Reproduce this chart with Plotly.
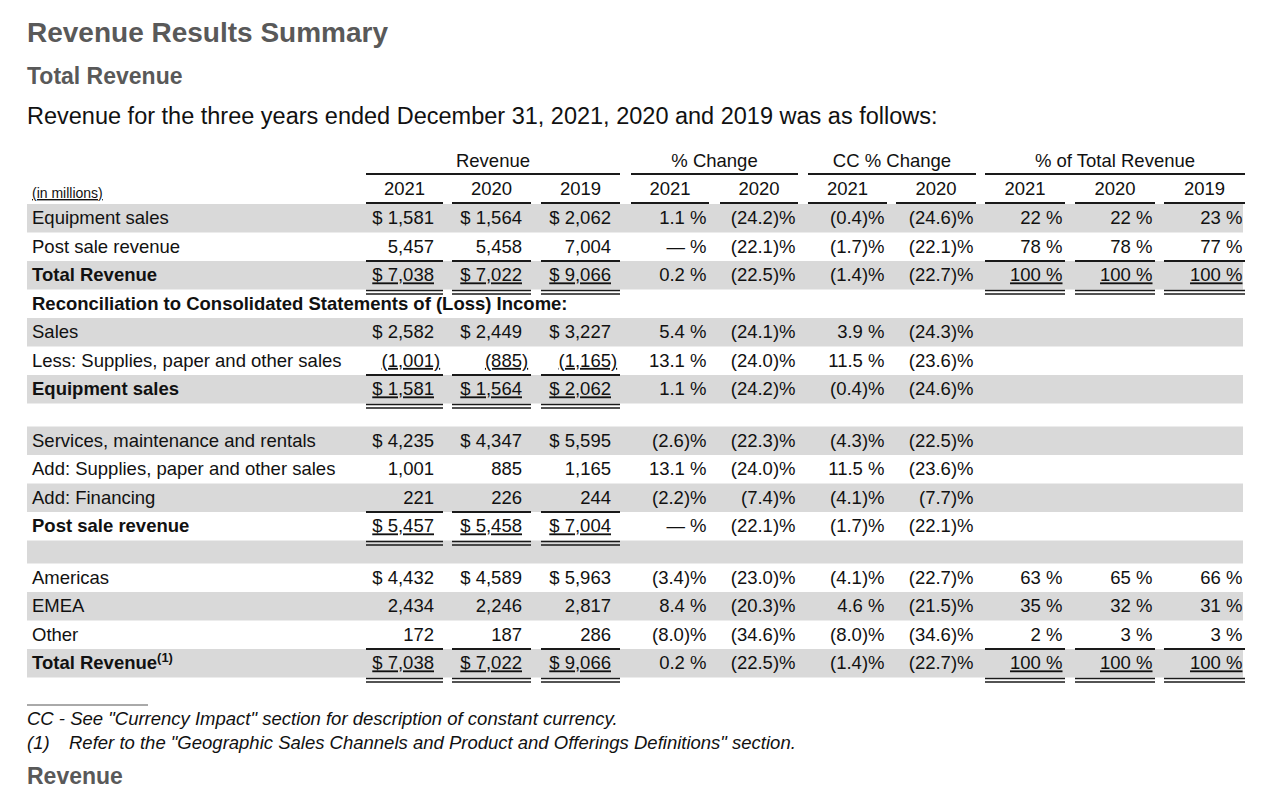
import plotly.graph_objects as go

# ---------------- data ----------------
row_labels = [
    "Equipment sales", "Post sale revenue", "Total Revenue",
    "Reconciliation to Consolidated Statements of (Loss) Income:",
    "Sales", "Less: Supplies, paper and other sales", "Equipment sales", "",
    "Services, maintenance and rentals", "Add: Supplies, paper and other sales",
    "Add: Financing", "Post sale revenue", "",
    "Americas", "EMEA", "Other", "Total Revenue<sup>(1)</sup>",
]
rev_2021 = [1581, 5457, 7038, None, 2582, -1001, 1581, None, 4235, 1001, 221, 5457, None, 4432, 2434, 172, 7038]
rev_2020 = [1564, 5458, 7022, None, 2449, -885, 1564, None, 4347, 885, 226, 5458, None, 4589, 2246, 187, 7022]
rev_2019 = [2062, 7004, 9066, None, 3227, -1165, 2062, None, 5595, 1165, 244, 7004, None, 5963, 2817, 286, 9066]
pct_2021 = [1.1, 0.0, 0.2, None, 5.4, 13.1, 1.1, None, -2.6, 13.1, -2.2, 0.0, None, -3.4, 8.4, -8.0, 0.2]
pct_2020 = [-24.2, -22.1, -22.5, None, -24.1, -24.0, -24.2, None, -22.3, -24.0, -7.4, -22.1, None, -23.0, -20.3, -34.6, -22.5]
cc_2021 = [-0.4, -1.7, -1.4, None, 3.9, 11.5, -0.4, None, -4.3, 11.5, -4.1, -1.7, None, -4.1, 4.6, -8.0, -1.4]
cc_2020 = [-24.6, -22.1, -22.7, None, -24.3, -23.6, -24.6, None, -22.5, -23.6, -7.7, -22.1, None, -22.7, -21.5, -34.6, -22.7]
tot_2021 = [22, 78, 100, None, None, None, None, None, None, None, None, None, None, 63, 35, 2, 100]
tot_2020 = [22, 78, 100, None, None, None, None, None, None, None, None, None, None, 65, 32, 3, 100]
tot_2019 = [23, 77, 100, None, None, None, None, None, None, None, None, None, None, 66, 31, 3, 100]

group_headers = ["Revenue", "% Change", "CC % Change", "% of Total Revenue"]
year_labels = ["2021", "2020", "2019", "2021", "2020", "2021", "2020", "2021", "2020", "2019"]

title_text = "Revenue Results Summary"
subtitle_text = "Total Revenue"
intro_text = "Revenue for the three years ended December 31, 2021, 2020 and 2019 was as follows:"
units_text = "(in millions)"
note_cc = 'CC - See "Currency Impact" section for description of constant currency.'
note_1_mark = "(1)"
note_1_text = 'Refer to the "Geographic Sales Channels and Product and Offerings Definitions" section.'
next_section = "Revenue"

# ---------------- styles / layout ----------------
W, H = 1280, 786
FONT = "Liberation Sans, Arial, sans-serif"
FS = 18.5
TXT = "#111111"
TITLE_GREY = "#595959"
BAND = "#d9d9d9"
RULE = "#1a1a1a"
TEXT_DY = 1.5

bold_rows = {2, 3, 6, 11, 16}
dollar_rows = {0, 2, 4, 6, 8, 11, 13, 16}
rev_underline_rows = {2, 5, 6, 11, 16}
tot_underline_rows = {2, 16}
single_rule_after = {1: ("rev", "tot"), 5: ("rev",), 10: ("rev",), 15: ("rev", "tot")}
double_rule_after = {2: ("rev", "tot"), 6: ("rev",), 11: ("rev",), 16: ("rev", "tot")}

row_heights = [28.5] * len(row_labels)
row_heights[7] = 23
row_heights[12] = 23
table_top = 204
tops = []
acc = table_top
for h in row_heights:
    tops.append(acc)
    acc += h
bottoms = [t + h for t, h in zip(tops, row_heights)]
centers = [t + h / 2 for t, h in zip(tops, row_heights)]

# column spans (x0, x1) per column, grouped
col_spans = {
    "rev": [(366, 443), (452, 531), (541, 620)],
    "pct": [(631, 709), (720, 798)],
    "cc": [(808, 887), (896, 976)],
    "tot": [(985, 1065), (1075, 1155), (1164, 1245)],
}
group_order = ["rev", "pct", "cc", "tot"]
label_x = 32
band_x0, band_x1 = 27, 1243
header_y = 161
header_rule_y = 174
year_y = 189
year_rule_y = 203
PAREN_W = 0.333 * FS


def fmt_rev(v, dollar):
    s = f"{abs(v):,}"
    if v < 0:
        s = f"({s})"
    if dollar:
        s = "$ " + s
    return s


def fmt_pct(v):
    if v == 0:
        return "— %"
    if v < 0:
        return f"({abs(v):.1f})%"
    return f"{v:.1f} %"


fig = go.Figure()

# grey row bands
shapes = []
for i in range(len(row_labels)):
    if i % 2 == 0:
        shapes.append(dict(type="rect", xref="x", yref="y", x0=band_x0, x1=band_x1,
                           y0=tops[i], y1=bottoms[i], fillcolor=BAND, line=dict(width=0),
                           layer="below"))

# header rules
for g in group_order:
    spans = col_spans[g]
    shapes.append(dict(type="line", xref="x", yref="y", x0=spans[0][0], x1=spans[-1][1],
                       y0=header_rule_y, y1=header_rule_y, line=dict(color=RULE, width=2)))
    for (x0, x1) in spans:
        shapes.append(dict(type="line", xref="x", yref="y", x0=x0, x1=x1,
                           y0=year_rule_y, y1=year_rule_y, line=dict(color=RULE, width=2.2)))

# subtotal / total rules
for r, groups in single_rule_after.items():
    y = bottoms[r]
    for g in groups:
        for (x0, x1) in col_spans[g]:
            shapes.append(dict(type="line", xref="x", yref="y", x0=x0, x1=x1, y0=y, y1=y,
                               line=dict(color=RULE, width=1.8)))
for r, groups in double_rule_after.items():
    y = bottoms[r]
    for g in groups:
        for (x0, x1) in col_spans[g]:
            for dy in (1.0, 4.5):
                shapes.append(dict(type="line", xref="x", yref="y", x0=x0, x1=x1,
                                   y0=y + dy, y1=y + dy, line=dict(color=RULE, width=1.4)))

# footnote rule
shapes.append(dict(type="line", xref="x", yref="y", x0=27, x1=148, y0=705, y1=705,
                   line=dict(color="#555555", width=1)))


def add_text(xs, ys, texts, pos, size=FS, color=TXT):
    fig.add_trace(go.Scatter(x=xs, y=[y + TEXT_DY for y in ys], text=texts, mode="text",
                             textposition=pos,
                             textfont=dict(family=FONT, size=size, color=color),
                             hoverinfo="skip", showlegend=False, cliponaxis=False))


# row labels (skip blank spacer rows)
lab_idx = [i for i, t in enumerate(row_labels) if t]
lab_txt = [f"<b>{row_labels[i]}</b>" if i in bold_rows else row_labels[i] for i in lab_idx]
add_text([label_x] * len(lab_idx), [centers[i] for i in lab_idx], lab_txt, "middle right")

# revenue columns
for (x0, x1), vals in zip(col_spans["rev"], [rev_2021, rev_2020, rev_2019]):
    xs, ys, ts = [], [], []
    right = x1 - 9
    for i, v in enumerate(vals):
        if v is None:
            continue
        s = fmt_rev(v, i in dollar_rows)
        if i in rev_underline_rows:
            s = f"<u>{s}</u>"
        xs.append(right + (PAREN_W if v < 0 else 0))
        ys.append(centers[i])
        ts.append(s)
    add_text(xs, ys, ts, "middle left")

# percent change columns
for (x0, x1), vals in zip(col_spans["pct"] + col_spans["cc"], [pct_2021, pct_2020, cc_2021, cc_2020]):
    xs, ys, ts = [], [], []
    for i, v in enumerate(vals):
        if v is None:
            continue
        xs.append(x1 - 2.5)
        ys.append(centers[i])
        ts.append(fmt_pct(v))
    add_text(xs, ys, ts, "middle left")

# % of total columns
for (x0, x1), vals in zip(col_spans["tot"], [tot_2021, tot_2020, tot_2019]):
    xs, ys, ts = [], [], []
    for i, v in enumerate(vals):
        if v is None:
            continue
        s = f"{v} %"
        if i in tot_underline_rows:
            s = f"<u>{s}</u>"
        xs.append(x1 - 2.5)
        ys.append(centers[i])
        ts.append(s)
    add_text(xs, ys, ts, "middle left")

# group headers
gx = [(col_spans[g][0][0] + col_spans[g][-1][1]) / 2 for g in group_order]
add_text(gx, [header_y] * len(gx), group_headers, "middle center")

# year labels
all_spans = [s for g in group_order for s in col_spans[g]]
add_text([(a + b) / 2 for a, b in all_spans], [year_y] * len(all_spans), year_labels, "middle center")

# units label
add_text([label_x], [193], [f"<u>{units_text}</u>"], "middle right", size=14)

annotations = [
    dict(x=25, y=32, text=f"<b>{title_text}</b>", font=dict(size=28, color=TITLE_GREY, family=FONT)),
    dict(x=25, y=76, text=f"<b>{subtitle_text}</b>", font=dict(size=23, color=TITLE_GREY, family=FONT)),
    dict(x=25, y=116, text=intro_text, font=dict(size=23.5, color=TXT, family=FONT)),
    dict(x=25, y=718, text=f"<i>{note_cc}</i>", font=dict(size=18.5, color=TXT, family=FONT)),
    dict(x=25, y=742, text=f"<i>{note_1_mark}</i>", font=dict(size=18.5, color=TXT, family=FONT)),
    dict(x=67, y=742, text=f"<i>{note_1_text}</i>", font=dict(size=18.5, color=TXT, family=FONT)),
    dict(x=25, y=776, text=f"<b>{next_section}</b>", font=dict(size=23, color=TITLE_GREY, family=FONT)),
]
for a in annotations:
    a.update(xref="x", yref="y", xanchor="left", yanchor="middle", showarrow=False)

fig.update_layout(
    width=W, height=H, margin=dict(l=0, r=0, t=0, b=0),
    paper_bgcolor="white", plot_bgcolor="white",
    xaxis=dict(range=[0, W], visible=False, fixedrange=True),
    yaxis=dict(range=[H, 0], visible=False, fixedrange=True),
    shapes=shapes, annotations=annotations, showlegend=False,
)

fig.write_html("out.html", config={"displayModeBar": False},
               post_script="document.body.style.margin='0';document.body.style.overflow='hidden';")
